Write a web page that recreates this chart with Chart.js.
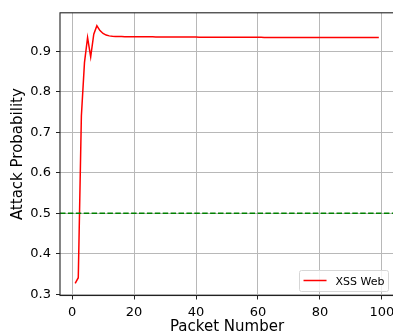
<!DOCTYPE html>
<html>
<head>
<meta charset="utf-8">
<script src="https://cdn.jsdelivr.net/npm/chart.js@4.4.0/dist/chart.umd.min.js"></script>
<style>
  html, body { margin: 0; padding: 0; background: #fff; overflow: hidden; }
  #wrap { position: relative; width: 400px; height: 336px; }
</style>
</head>
<body>
<div id="wrap"><canvas id="c" width="400" height="336"></canvas></div>
<script>
// ---- data ----
const packetNumbers = [];
for (let i = 1; i <= 99; i++) packetNumbers.push(i);
const xssWeb = [
  0.327, 0.341, 0.740, 0.872, 0.934, 0.886, 0.942, 0.963, 0.951, 0.944,
  0.940, 0.938, 0.937,
  0.9365, 0.9363, 0.9362, 0.9361, 0.9360, 0.9360, 0.9359,
  0.9358, 0.9358, 0.9357, 0.9357, 0.9356, 0.9356, 0.9355, 0.9355, 0.9354, 0.9354,
  0.9353, 0.9353, 0.9352, 0.9352, 0.9352, 0.9351, 0.9351, 0.9350, 0.9350, 0.9350,
  0.9349, 0.9349, 0.9349, 0.9348, 0.9348, 0.9348, 0.9347, 0.9347, 0.9347, 0.9346,
  0.9346, 0.9346, 0.9346, 0.9345, 0.9345, 0.9345, 0.9345, 0.9344, 0.9344, 0.9344,
  0.9344, 0.9343, 0.9343, 0.9343, 0.9343, 0.9343, 0.9342, 0.9342, 0.9342, 0.9342,
  0.9342, 0.9341, 0.9341, 0.9341, 0.9341, 0.9341, 0.9341, 0.9340, 0.9340, 0.9340,
  0.9340, 0.9340, 0.9340, 0.9339, 0.9339, 0.9339, 0.9339, 0.9339, 0.9339, 0.9339,
  0.9339, 0.9338, 0.9338, 0.9338, 0.9338, 0.9338, 0.9338, 0.9338, 0.9338
];
const seriesLabel = "XSS Web";
const threshold = 0.5;
const xTicks = [0, 20, 40, 60, 80, 100];
const yTicks = [0.3, 0.4, 0.5, 0.6, 0.7, 0.8, 0.9];
const xTitle = "Packet Number";
const yTitle = "Attack Probability";

const FONT = "'DejaVu Sans', sans-serif";

const framePlugin = {
  id: 'frame',
  afterDatasetsDraw(chart) {
    const {ctx, chartArea: a, scales: {x, y}} = chart;
    // threshold line
    ctx.save();
    ctx.beginPath();
    ctx.rect(a.left, a.top, a.right - a.left, a.bottom - a.top);
    ctx.clip();
    const ty = y.getPixelForValue(threshold);
    ctx.strokeStyle = '#008000';
    ctx.lineWidth = 1.5;
    ctx.setLineDash([5.5, 2.4]);
    ctx.beginPath();
    ctx.moveTo(a.left, ty);
    ctx.lineTo(a.right, ty);
    ctx.stroke();
    ctx.restore();

    // spines
    ctx.save();
    ctx.strokeStyle = '#222';
    ctx.lineWidth = 1.1;
    ctx.strokeRect(a.left, a.top, a.right - a.left, a.bottom - a.top);
    ctx.restore();

    // legend (lower right)
    const ds = chart.data.datasets[0];
    ctx.save();
    ctx.font = '11px ' + FONT;
    const tw = ctx.measureText(ds.label).width;
    const bw = tw + 40, bh = 21;
    const bx = a.right - 5.5 - bw, by = a.bottom - 4 - bh;
    const r = 2;
    ctx.beginPath();
    ctx.moveTo(bx + r, by);
    ctx.lineTo(bx + bw - r, by);
    ctx.quadraticCurveTo(bx + bw, by, bx + bw, by + r);
    ctx.lineTo(bx + bw, by + bh - r);
    ctx.quadraticCurveTo(bx + bw, by + bh, bx + bw - r, by + bh);
    ctx.lineTo(bx + r, by + bh);
    ctx.quadraticCurveTo(bx, by + bh, bx, by + bh - r);
    ctx.lineTo(bx, by + r);
    ctx.quadraticCurveTo(bx, by, bx + r, by);
    ctx.closePath();
    ctx.fillStyle = 'rgba(255,255,255,0.8)';
    ctx.fill();
    ctx.strokeStyle = '#d6d6d6';
    ctx.lineWidth = 1;
    ctx.stroke();
    ctx.strokeStyle = ds.borderColor;
    ctx.lineWidth = 1.5;
    ctx.beginPath();
    ctx.moveTo(bx + 4, by + 10);
    ctx.lineTo(bx + 27, by + 10);
    ctx.stroke();
    ctx.fillStyle = '#000';
    ctx.textBaseline = 'alphabetic';
    ctx.fillText(ds.label, bx + 36, by + 14);
    ctx.restore();
  }
};

new Chart(document.getElementById('c'), {
  type: 'line',
  data: {
    labels: packetNumbers,
    datasets: [{
      label: seriesLabel,
      data: packetNumbers.map((p, i) => ({x: p, y: xssWeb[i]})),
      borderColor: '#ff0000',
      borderWidth: 1.5,
      pointRadius: 0,
      tension: 0,
      fill: false
    }]
  },
  options: {
    responsive: false,
    animation: false,
    devicePixelRatio: 1,
    layout: { padding: { top: 11.5, right: 6, left: 0, bottom: 0 } },
    plugins: { legend: { display: false }, tooltip: { enabled: false } },
    scales: {
      x: {
        type: 'linear',
        min: -3.9,
        max: 103.9,
        afterBuildTicks: s => { s.ticks = xTicks.map(v => ({value: v})); },
        afterFit: s => { s.height = 40.5; },
        ticks: {
          font: { family: FONT, size: 13 },
          color: '#000',
          padding: 5,
          maxRotation: 0,
          autoSkip: false,
          callback: v => String(v)
        },
        grid: { color: '#b8b8b8', lineWidth: 1, tickLength: 4, tickColor: '#222', drawTicks: true },
        border: { display: false },
        title: { display: true, text: xTitle, font: { family: FONT, size: 15 }, color: '#000', padding: { top: 0, bottom: 0 } }
      },
      y: {
        type: 'linear',
        min: 0.297,
        max: 0.995,
        afterBuildTicks: s => { s.ticks = yTicks.map(v => ({value: v})); },
        afterFit: s => { s.width = 60; },
        ticks: {
          font: { family: FONT, size: 13 },
          color: '#000',
          padding: 5,
          autoSkip: false,
          callback: v => v.toFixed(1)
        },
        grid: { color: '#b8b8b8', lineWidth: 1, tickLength: 4, tickColor: '#222', drawTicks: true },
        border: { display: false },
        title: { display: true, text: yTitle, font: { family: FONT, size: 15 }, color: '#000', padding: { top: 9, bottom: 0 } }
      }
    }
  },
  plugins: [framePlugin]
});
</script>
</body>
</html>
